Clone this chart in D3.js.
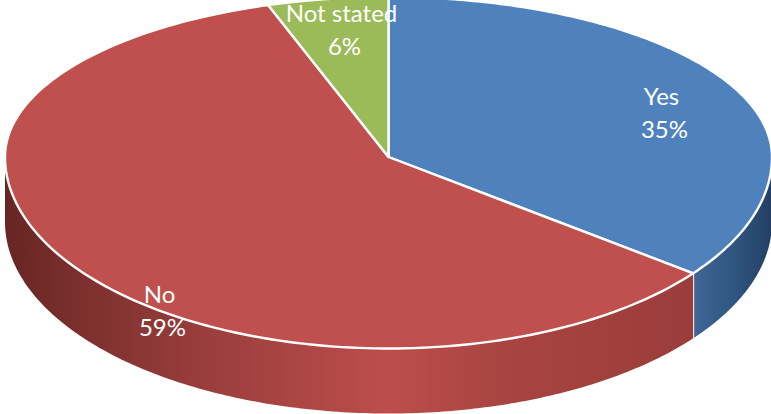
<!DOCTYPE html>
<html>
<head>
<meta charset="utf-8">
<script src="https://cdn.jsdelivr.net/npm/d3@7"></script>
<style>
html, body { margin: 0; padding: 0; background: #fff; }
svg { display: block; }
text { font-family: Lato, "Open Sans", sans-serif; font-size: 24px; fill: #fff; text-anchor: middle; }
</style>
</head>
<body>
<div id="vis"></div>
<script>
// data
var categories = ["Yes", "No", "Not stated"];
var values = [35, 59, 6];
var colors = ["#4f81bd", "#c0504d", "#9bbb59"];

var w = 771;
var h = 414;
var cx = 388.5;
var cy = 157;
var rx = 383.5;
var ryBack = 160;   // far half of the disc is foreshortened
var ryFront = 191.5;
var depth = 65;

var svg = d3.select("#vis")
  .append("svg")
  .attr("width", w)
  .attr("height", h);

var pie = d3.pie().sort(null).value(d => d);
var slices = pie(values);

// perspective: the drawn angle drifts a little from the true one
var deg = Math.PI / 180;
var warp = d3.scaleLinear()
  .domain([0, 126 * deg, 338.4 * deg, 360 * deg])
  .range([0, 127.4 * deg, 341.7 * deg, 360 * deg]);

var px = a => cx + rx * Math.sin(warp(a));
var py = a => {
  var c = Math.cos(warp(a));
  return cy - (c > 0 ? ryBack : ryFront) * c;
};

function sample(start, end) {
  return d3.range(0, 181).map(k => start + (end - start) * k / 180);
}

// side wall gradients, dark at the far edges
var defs = svg.append("defs");
function wallGradient(id, stops) {
  var g = defs.append("linearGradient")
    .attr("id", id)
    .attr("gradientUnits", "userSpaceOnUse")
    .attr("x1", cx - rx).attr("x2", cx + rx)
    .attr("y1", 0).attr("y2", 0);
  stops.forEach(s => g.append("stop").attr("offset", s[0]).attr("stop-color", s[1]));
}
wallGradient("wall0", [[0.89, "#41699a"], [0.95, "#2f5580"], [1, "#233f63"]]);
wallGradient("wall1", [[0, "#672523"], [0.1, "#7c302e"], [0.25, "#983d3b"], [0.5, "#bc4e4b"], [0.65, "#a84441"], [0.9, "#9a3d3a"]]);

// the wall is only visible on the front half of the disc
var wall = d3.area()
  .x(a => px(a))
  .y0(a => py(a))
  .y1(a => py(a) + depth);

var walls = svg.append("g");
slices.forEach(function (s, i) {
  var start = Math.max(s.startAngle, warp.invert(Math.PI / 2));
  var end = Math.min(s.endAngle, warp.invert(Math.PI * 1.5));
  if (end <= start) return;
  walls.append("path")
    .attr("d", wall(sample(start, end)))
    .attr("fill", "url(#wall" + i + ")");
  // white seam where two slices meet on the wall
  if (s.endAngle < warp.invert(Math.PI * 1.5)) {
    walls.append("line")
      .attr("x1", px(s.endAngle)).attr("x2", px(s.endAngle))
      .attr("y1", py(s.endAngle)).attr("y2", py(s.endAngle) + depth)
      .attr("stroke", "#fff").attr("stroke-width", 2);
  }
});

// top face
var rim = d3.line().x(a => px(a)).y(a => py(a));
svg.append("g")
  .selectAll("path")
  .data(slices)
  .enter()
  .append("path")
  .attr("d", d => `M${cx},${cy}L` + rim(sample(d.startAngle, d.endAngle)).slice(1) + "Z")
  .attr("fill", (d, i) => colors[i])
  .attr("stroke", "#fff")
  .attr("stroke-width", 2.4)
  .attr("stroke-linejoin", "round");

// labels sit where the original chart put them, offset from the centre
var labelDx = [273, -229, -47];
var labelDy = [-52, 146, -135];
var lines = svg.append("g");
slices.forEach(function (s, i) {
  var t = lines.append("text")
    .attr("x", cx + labelDx[i])
    .attr("y", cy + labelDy[i]);
  t.append("tspan").attr("x", cx + labelDx[i]).text(categories[i]);
  t.append("tspan").attr("x", cx + labelDx[i] + 3).attr("dy", 33).text(values[i] + "%");
});
</script>
</body>
</html>
